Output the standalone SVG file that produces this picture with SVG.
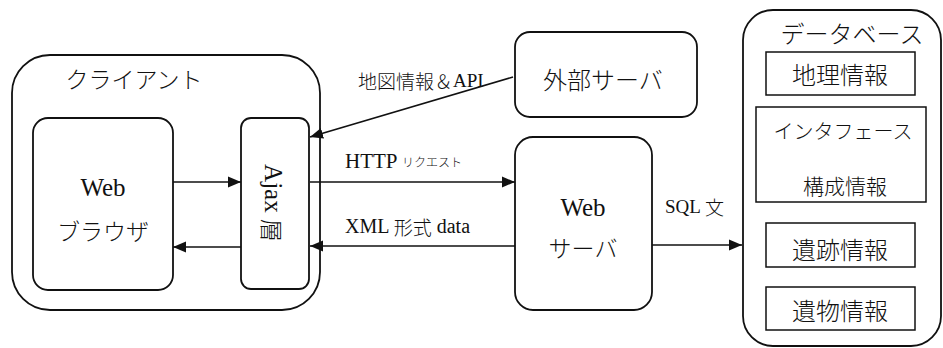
<svg xmlns="http://www.w3.org/2000/svg" width="943" height="348" viewBox="0 0 943 348">
<style>
  .box { fill: #fff; stroke: #111; stroke-width: 1.8; }
  .inner { fill: #fff; stroke: #111; stroke-width: 1.5; }
  .t { font-family: "Liberation Serif", "Noto Sans CJK JP", serif; fill: #111; dominant-baseline: central; }
  .jp { font-family: "Noto Sans CJK JP", "Liberation Serif", sans-serif; font-weight: 300; fill: #111; dominant-baseline: central; }
  .c { stroke: #111; stroke-width: 1.6; fill: none; marker-end: url(#ah); }
</style>
<defs>
  <marker id="ah" markerUnits="userSpaceOnUse" markerWidth="14" markerHeight="12" refX="13" refY="6" orient="auto">
    <path d="M0,0.5 L13,6 L0,11.5 Z" fill="#111"/>
  </marker>
</defs>

<g id="client">
  <rect class="box" x="12" y="55" width="308" height="255" rx="38"/>
  <text class="jp" x="134" y="78" font-size="23" text-anchor="middle">クライアント</text>
</g>
<g id="browser">
  <rect class="box" x="33" y="118" width="140" height="172" rx="15"/>
  <text class="t" x="103" y="187" font-size="25" text-anchor="middle">Web</text>
  <text class="jp" x="103" y="230" font-size="23" text-anchor="middle">ブラウザ</text>
</g>
<g id="ajax">
  <rect class="box" x="241" y="118" width="68" height="171" rx="10"/>
  <text class="t" transform="translate(273,203) rotate(90)" font-size="25" text-anchor="middle">Ajax <tspan class="jp" font-size="23">層</tspan></text>
</g>
<g id="external">
  <rect class="box" x="515" y="32" width="182" height="85" rx="15"/>
  <text class="jp" x="603" y="78" font-size="24" text-anchor="middle">外部サーバ</text>
</g>
<g id="webserver">
  <rect class="box" x="515" y="137" width="137" height="173" rx="18"/>
  <text class="t" x="583" y="207" font-size="25" text-anchor="middle">Web</text>
  <text class="jp" x="583" y="247" font-size="23" text-anchor="middle">サーバ</text>
</g>
<g id="database">
  <rect class="box" x="743" y="10" width="198" height="336" rx="30"/>
  <text class="jp" x="852" y="32" font-size="24" text-anchor="middle">データベース</text>
  <g id="db-geo">
    <rect class="inner" x="766" y="52" width="149" height="43"/>
    <text class="jp" x="840" y="73" font-size="24" text-anchor="middle">地理情報</text>
  </g>
  <g id="db-interface">
    <rect class="inner" x="756" y="107" width="170" height="95"/>
    <text class="jp" x="843" y="130" font-size="20" text-anchor="middle">インタフェース</text>
    <text class="jp" x="845" y="185" font-size="21" text-anchor="middle">構成情報</text>
  </g>
  <g id="db-site">
    <rect class="inner" x="766" y="223" width="149" height="44"/>
    <text class="jp" x="840" y="248" font-size="24" text-anchor="middle">遺跡情報</text>
  </g>
  <g id="db-artifact">
    <rect class="inner" x="766" y="287" width="149" height="43"/>
    <text class="jp" x="840" y="309" font-size="24" text-anchor="middle">遺物情報</text>
  </g>
</g>

<g id="connectors">
  <line class="c" x1="173" y1="182" x2="241" y2="182"/>
  <line class="c" x1="241" y1="247" x2="173" y2="247"/>
  <line class="c" x1="513" y1="77" x2="310" y2="137"/>
  <line class="c" x1="310" y1="182" x2="515" y2="182"/>
  <line class="c" x1="515" y1="246" x2="310" y2="246"/>
  <line class="c" x1="652" y1="245" x2="742" y2="245"/>
  <text class="t" x="358" y="80" font-size="19"><tspan class="jp">地図情報＆</tspan>API</text>
  <text class="t" x="345" y="161" font-size="21">HTTP <tspan class="jp" font-size="12">リクエスト</tspan></text>
  <text class="t" x="345" y="226" font-size="20">XML <tspan class="jp" font-size="19">形式</tspan> data</text>
  <text class="t" x="665" y="206" font-size="19">SQL <tspan class="jp" font-size="19">文</tspan></text>
</g>
</svg>
